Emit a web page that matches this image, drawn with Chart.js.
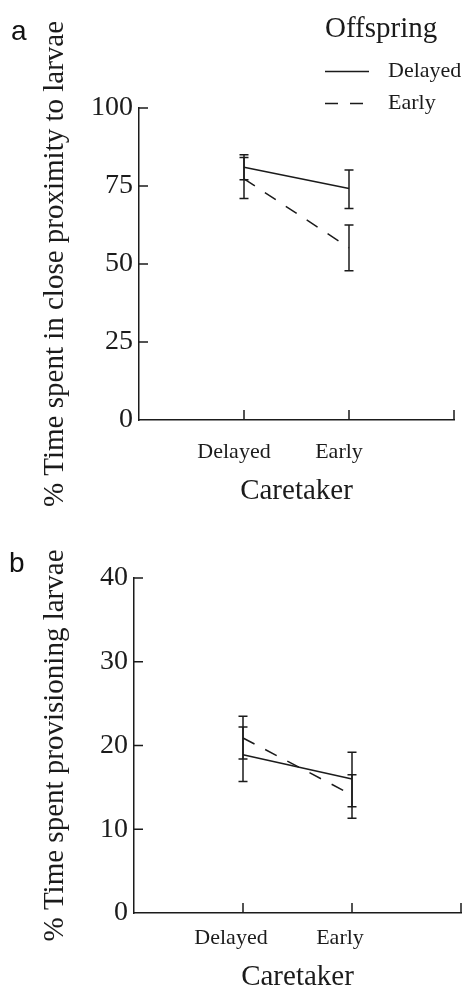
<!DOCTYPE html>
<html>
<head>
<meta charset="utf-8">
<script src="https://cdn.jsdelivr.net/npm/chart.js@4/dist/chart.umd.min.js"></script>
<style>
  html, body { margin: 0; padding: 0; background: #fff; overflow: hidden; }
  body { width: 473px; height: 987px; position: relative; }
  canvas { position: absolute; left: 0; }
  #chartA { top: 0; }
  #chartB { top: 530px; }
  .panel { position: absolute; font-family: "Liberation Sans", sans-serif; font-size: 28px; color: #111; line-height: 1; }
</style>
</head>
<body>
<canvas id="chartA" width="473" height="520"></canvas>
<canvas id="chartB" width="473" height="470"></canvas>
<div class="panel" style="left:11px; top:17px;">a</div>
<div class="panel" style="left:9px; top:549px;">b</div>
<script>
// caretaker groups (x axis), padded with blank slots at both ends
const caretaker = ['Delayed', 'Early'];
const offspring = ['Delayed', 'Early'];

// panel a: % time spent in close proximity to larvae
const aDelayedMean = [81.0, 74.2];
const aDelayedLow  = [77.0, 67.8];
const aDelayedHigh = [85.0, 80.1];
const aEarlyMean   = [77.3, 55.2];
const aEarlyLow    = [71.0, 47.8];
const aEarlyHigh   = [84.1, 62.5];
const aTicks = [0, 25, 50, 75, 100];

// panel b: % time spent provisioning larvae
const bDelayedMean = [18.9, 16.0];
const bDelayedLow  = [15.7, 12.7];
const bDelayedHigh = [22.2, 19.2];
const bEarlyMean   = [20.9, 14.1];
const bEarlyLow    = [18.4, 11.3];
const bEarlyHigh   = [23.5, 16.5];
const bTicks = [0, 10, 20, 30, 40];

const SERIF = 'Liberation Serif';
const INK = '#1b1b1b';
const DASH = [13, 12];

function pad(arr) { return [null].concat(arr, [null]); }

// vertical error bars with small caps, placed through the chart scales
const errorBars = {
  id: 'errorBars',
  afterDatasetsDraw(chart) {
    const ctx = chart.ctx, xs = chart.scales.x, ys = chart.scales.y;
    chart.data.datasets.forEach(ds => {
      ctx.save();
      ctx.strokeStyle = INK;
      ctx.lineWidth = 1.5;
      ds.errLow.forEach((lo, i) => {
        if (lo == null) return;
        const px = xs.getPixelForValue(i);
        const y1 = ys.getPixelForValue(lo);
        const y2 = ys.getPixelForValue(ds.errHigh[i]);
        ctx.beginPath();
        ctx.moveTo(px, y1); ctx.lineTo(px, y2);
        ctx.moveTo(px - 4.5, y1); ctx.lineTo(px + 4.5, y1);
        ctx.moveTo(px - 4.5, y2); ctx.lineTo(px + 4.5, y2);
        ctx.stroke();
      });
      ctx.restore();
    });
  }
};

// tick marks pointing into the plot, like the original figure
const innerTicks = {
  id: 'innerTicks',
  afterDraw(chart) {
    const ctx = chart.ctx, xs = chart.scales.x, ys = chart.scales.y;
    const a = chart.chartArea;
    ctx.save();
    ctx.strokeStyle = INK;
    ctx.lineWidth = 1.5;
    ctx.beginPath();
    ys.ticks.forEach((t, i) => {
      if (i === 0) return;
      const py = ys.getPixelForTick(i);
      ctx.moveTo(a.left, py); ctx.lineTo(a.left + 9, py);
    });
    xs.ticks.forEach((t, i) => {
      if (i === 0) return;
      const px = xs.getPixelForTick(i);
      ctx.moveTo(px, a.bottom); ctx.lineTo(px, a.bottom - 10);
    });
    ctx.stroke();
    ctx.restore();
  }
};

// legend block "Offspring" in the top right of panel a
const offspringLegend = {
  id: 'offspringLegend',
  afterDraw(chart) {
    const ctx = chart.ctx;
    ctx.save();
    ctx.fillStyle = INK;
    ctx.font = '29px "' + SERIF + '"';
    ctx.textBaseline = 'alphabetic';
    ctx.fillText('Offspring', 325, 37);
    ctx.font = '22px "' + SERIF + '"';
    ctx.textBaseline = 'middle';
    chart.data.datasets.forEach((ds, i) => {
      const y = 71.5 + i * 32;
      ctx.strokeStyle = INK;
      ctx.lineWidth = 1.5;
      ctx.setLineDash(ds.borderDash || []);
      ctx.beginPath();
      ctx.moveTo(325, y); ctx.lineTo(369, y);
      ctx.stroke();
      ctx.setLineDash([]);
      ctx.fillText(ds.label, 388, y);
    });
    ctx.restore();
  }
};

function makePanel(id, o) {
  const labels = [''].concat(caretaker, ['']);
  const plugins = [errorBars, innerTicks];
  if (o.legend) plugins.push(offspringLegend);
  return new Chart(id, {
    type: 'line',
    data: {
      labels: labels,
      datasets: [
        {
          label: offspring[0], data: pad(o.dMean),
          errLow: pad(o.dLow), errHigh: pad(o.dHigh),
          borderColor: INK, borderWidth: 1.5, pointRadius: 0, tension: 0
        },
        {
          label: offspring[1], data: pad(o.eMean),
          errLow: pad(o.eLow), errHigh: pad(o.eHigh),
          borderColor: INK, borderWidth: 1.5, borderDash: DASH, pointRadius: 0, tension: 0
        }
      ]
    },
    options: {
      responsive: false,
      animation: false,
      devicePixelRatio: 1,
      layout: { padding: o.padding },
      plugins: { legend: { display: false }, tooltip: { enabled: false } },
      scales: {
        x: {
          offset: false,
          grid: { display: false, drawTicks: false },
          border: { color: INK, width: 1.5 },
          ticks: {
            autoSkip: false, maxRotation: 0, padding: o.xPad, labelOffset: o.labelOffset,
            color: INK, font: { family: SERIF, size: 22 }
          },
          title: { display: true, text: 'Caretaker', color: INK, padding: 0, font: { family: SERIF, size: 29 } },
          afterFit(s) { s.height = o.xHeight; }
        },
        y: {
          min: o.ticks[0], max: o.ticks[o.ticks.length - 1],
          grid: { display: false, drawTicks: false },
          border: { color: INK, width: 1.5 },
          ticks: {
            stepSize: o.ticks[1] - o.ticks[0], padding: 6,
            color: INK, font: { family: SERIF, size: 28 }
          },
          title: { display: true, text: o.yTitle, color: INK, padding: 0, font: { family: SERIF, size: 29 } },
          afterFit(s) { s.width = o.yWidth; }
        }
      }
    },
    plugins: plugins
  });
}

makePanel('chartA', {
  dMean: aDelayedMean, dLow: aDelayedLow, dHigh: aDelayedHigh,
  eMean: aEarlyMean, eLow: aEarlyLow, eHigh: aEarlyHigh,
  ticks: aTicks,
  yTitle: '% Time spent in close proximity to larvae',
  padding: { left: 38, top: 108, right: 16, bottom: 11 },
  yWidth: 101, xHeight: 89, xPad: 19, labelOffset: -10,
  legend: true
});

makePanel('chartB', {
  dMean: bDelayedMean, dLow: bDelayedLow, dHigh: bDelayedHigh,
  eMean: bEarlyMean, eLow: bEarlyLow, eHigh: bEarlyHigh,
  ticks: bTicks,
  yTitle: '% Time spent provisioning larvae',
  padding: { left: 38, top: 48, right: 4, bottom: 5 },
  yWidth: 96, xHeight: 82, xPad: 12, labelOffset: -12,
  legend: false
});
</script>
</body>
</html>
